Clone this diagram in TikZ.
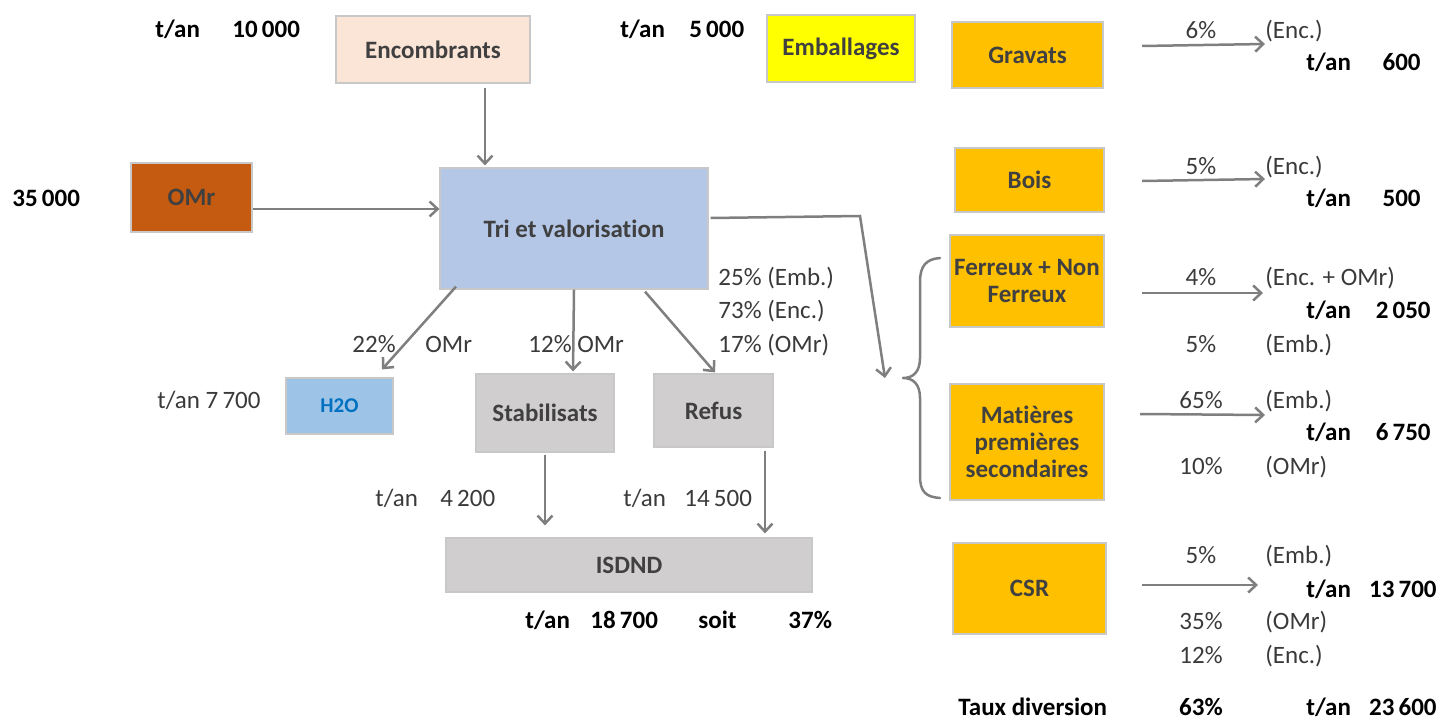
\documentclass[tikz,border=0pt]{standalone}
\usepackage{fontspec}
\setmainfont{Carlito}[Ligatures=NoCommon]
\usetikzlibrary{arrows.meta}
\definecolor{boxline}{HTML}{C8C8C8}
\definecolor{boxtext}{HTML}{404040}
\definecolor{lbl}{HTML}{3A3A3A}
\definecolor{arrgray}{HTML}{7F7F7F}
\definecolor{cenc}{HTML}{FBE5D6}
\definecolor{cemb}{HTML}{FFFF00}
\definecolor{corange}{HTML}{FFC000}
\definecolor{ctri}{HTML}{B4C7E7}
\definecolor{comr}{HTML}{C55A11}
\definecolor{ch2o}{HTML}{9DC3E6}
\definecolor{ch2otext}{HTML}{0070C0}
\definecolor{cgray}{HTML}{D0CECE}
\newcommand{\fsz}{\fontsize{12.5}{13.5}\selectfont}
\begin{document}
\begin{tikzpicture}[x=0.5pt,y=-0.5pt,
  box/.style={draw=boxline, line width=0.6pt, text=boxtext, font=\fsz\bfseries, align=center, inner sep=0pt},
  arr/.style={draw=arrgray, line width=1.25pt, -{Straight Barb[length=4pt,width=7.5pt,line width=1.25pt]}},
  plain/.style={draw=arrgray, line width=1.25pt, line cap=round, line join=round},
  nl/.style={font=\fsz, text=lbl, inner sep=0pt, anchor=base west},
  nr/.style={font=\fsz, text=lbl, inner sep=0pt, anchor=base},
  bl/.style={font=\fsz\bfseries, text=black, inner sep=0pt, anchor=base west},
  br/.style={font=\fsz\bfseries, text=black, inner sep=0pt, anchor=base east},
  bc/.style={font=\fsz\bfseries, text=black, inner sep=0pt, anchor=base}]
\useasboundingbox (0,0) rectangle (1439,722);

% boxes
\node[box, fill=cenc, minimum width=97pt, minimum height=33.5pt] (enc) at (433,49.5) {Encombrants};
\node[box, fill=cemb, minimum width=74pt, minimum height=33.5pt] (emb) at (841,48.5) {Emballages};
\node[box, fill=corange, minimum width=75.5pt, minimum height=33pt] (grav) at (1027.5,55) {Gravats};
\node[box, fill=corange, minimum width=74.5pt, minimum height=32pt] (bois) at (1029.5,180) {Bois};
\node[box, fill=corange, minimum width=77pt, minimum height=46pt] (fer) at (1027,281) {Ferreux + Non\\Ferreux};
\node[box, fill=corange, minimum width=77pt, minimum height=58pt] (mps) at (1027,442) {Matières\\premières\\secondaires};
\node[box, fill=corange, minimum width=76.5pt, minimum height=45.5pt] (csr) at (1029.5,588.5) {CSR};
\node[box, fill=ctri, minimum width=134pt, minimum height=60.5pt] (tri) at (574,228.5) {Tri et valorisation};
\node[box, fill=comr, minimum width=60.5pt, minimum height=34.5pt] (omr) at (191.5,197.5) {OMr};
\node[box, fill=ch2o, text=ch2otext, font=\fontsize{10.5}{12}\selectfont\bfseries, minimum width=53.5pt, minimum height=28pt] (h2o) at (339.5,406) {H2O};
\node[box, fill=cgray, minimum width=69pt, minimum height=39pt] (stab) at (545,413) {Stabilisats};
\node[box, fill=cgray, minimum width=59.5pt, minimum height=36.5pt] (refus) at (713.5,410.5) {Refus};
\node[box, fill=cgray, minimum width=183pt, minimum height=27pt] (isdnd) at (629,565) {ISDND};

% connectors
\draw[arr] ([xshift=26pt,yshift=-2pt]enc.south) -- ([xshift=-44.5pt,yshift=1pt]tri.north);
\draw[arr] ([yshift=-5.75pt]omr.east) -- ([yshift=9.75pt]tri.west);
\draw[arr] ([xshift=-59pt,yshift=1.5pt]tri.south) -- ([xshift=21.25pt,yshift=4pt]h2o.north);
\draw[arr] (tri.south) -- ([xshift=14pt,yshift=1pt]stab.north);
\draw[arr] ([xshift=35.5pt,yshift=-1pt]tri.south) -- ([xshift=0.75pt,yshift=0.5pt]refus.north);
\coordinate (bend) at (860,216);
\coordinate (bracein) at (885,378);
\draw[arr] ([xshift=1pt,yshift=5.25pt]tri.east) -- (bend) -- (bracein);
\draw[arr] ([yshift=-1pt]stab.south) -- ([xshift=-42pt,yshift=6pt]isdnd.north);
\draw[arr] ([xshift=25.75pt,yshift=-1.5pt]refus.south) -- ([xshift=68pt,yshift=2pt]isdnd.north);

% brace
\coordinate (brtop) at (940,258);
\coordinate (brtip) at (903,378);
\coordinate (brbot) at (940,498);
\draw[plain] (brtop) .. controls (926,259) and (920,266) .. (920,282) -- (920,358)
  .. controls (920,372) and (913,378) .. (brtip)
  .. controls (913,378) and (920,384) .. (920,398) -- (920,476)
  .. controls (920,492) and (926,497) .. (brbot);

% right arrows
\coordinate (g1) at (1142,46); \coordinate (g2) at (1265,44);
\coordinate (b1) at (1142,181); \coordinate (b2) at (1265,179);
\coordinate (f1) at (1142,293); \coordinate (f2) at (1263,293);
\coordinate (m1) at (1140,414); \coordinate (m2) at (1265,415);
\coordinate (c1) at (1142,585); \coordinate (c2) at (1258,585);
\draw[arr] (g1) -- (g2);
\draw[arr] (b1) -- (b2);
\draw[arr] (f1) -- (f2);
\draw[arr] (m1) -- (m2);
\draw[arr] (c1) -- (c2);

% left/top labels
\node[bl] (l1) at (155,38) {t/an};
\node[bl] (l2) at (232,38) {10\,000};
\node[bl] (l3) at (620,38) {t/an};
\node[bl] (l4) at (689,38) {5\,000};
\node[bl] (l5) at (12,206) {35\,000};

\node[nl] (p1) at (718,285) {25\% (Emb.)};
\node[nl] (p2) at (718,318) {73\% (Enc.)};
\node[nl] (p3) at (718,352) {17\% (OMr)};
\node[nl] (p4) at (352,352) {22\%};
\node[nl] (p5) at (425,352) {OMr};
\node[nl] (p6) at (528,352) {12\% OMr};
\node[nl] (p7) at (157,408) {t/an 7\,700};
\node[nl] (p8) at (375,506) {t/an};
\node[nl] (p9) at (440,506) {4\,200};
\node[nl] (p10) at (623,506) {t/an};
\node[nl] (p11) at (684,506) {14\,500};

\node[bl] (s1) at (525,628) {t/an};
\node[bl] (s2) at (590,628) {18\,700};
\node[bl] (s3) at (698,628) {soit};
\node[bl] (s4) at (788,628) {37\%};

% right labels
\node[nr] (r1) at (1201,39) {6\%};
\node[nl] (r1b) at (1265,39) {(Enc.)};
\node[bl] (r1c) at (1306,71) {t/an};
\node[br] (r1d) at (1421,71) {600};

\node[nr] (r2) at (1201,174) {5\%};
\node[nl] (r2b) at (1265,174) {(Enc.)};
\node[bl] (r2c) at (1306,206) {t/an};
\node[br] (r2d) at (1421,206) {500};

\node[nr] (r3) at (1201,285) {4\%};
\node[nl] (r3b) at (1265,285) {(Enc. + OMr)};
\node[bl] (r3c) at (1306,318) {t/an};
\node[br] (r3d) at (1431,318) {2\,050};
\node[nr] (r3e) at (1201,352) {5\%};
\node[nl] (r3f) at (1265,352) {(Emb.)};

\node[nr] (r4) at (1201,408) {65\%};
\node[nl] (r4b) at (1265,408) {(Emb.)};
\node[bl] (r4c) at (1306,440) {t/an};
\node[br] (r4d) at (1431,440) {6\,750};
\node[nr] (r4e) at (1201,474) {10\%};
\node[nl] (r4f) at (1265,474) {(OMr)};

\node[nr] (r5) at (1201,563) {5\%};
\node[nl] (r5b) at (1265,563) {(Emb.)};
\node[bl] (r5c) at (1306,597) {t/an};
\node[br] (r5d) at (1437,597) {13\,700};
\node[nr] (r5e) at (1201,629) {35\%};
\node[nl] (r5f) at (1265,629) {(OMr)};
\node[nr] (r5g) at (1201,663) {12\%};
\node[nl] (r5h) at (1265,663) {(Enc.)};

\node[bl] (t1) at (958,715) {Taux diversion};
\node[bc] (t2) at (1201,715) {63\%};
\node[bl] (t3) at (1306,715) {t/an};
\node[br] (t4) at (1437,715) {23\,600};
\end{tikzpicture}
\end{document}
